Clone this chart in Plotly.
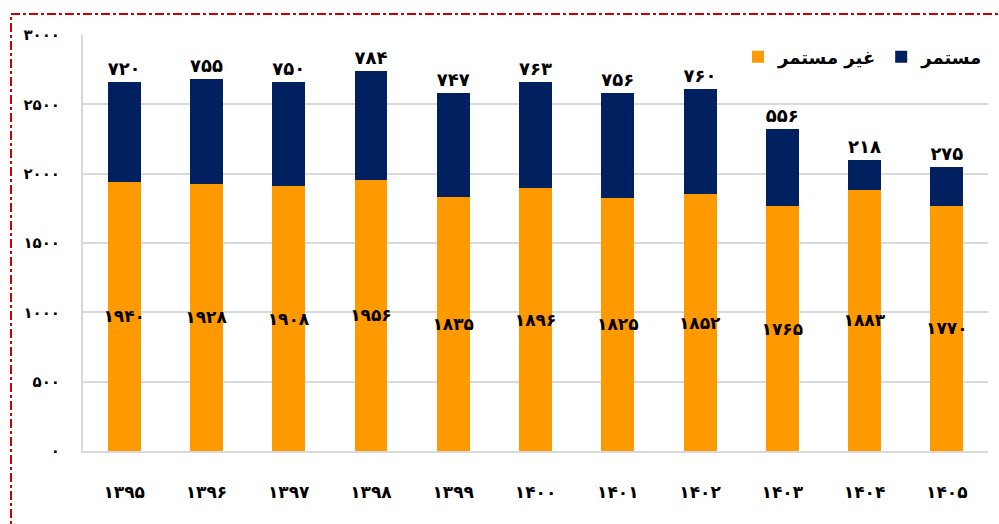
import plotly.graph_objects as go

years = [1395, 1396, 1397, 1398, 1399, 1400, 1401, 1402, 1403, 1404, 1405]
non_continuous = [1940, 1928, 1908, 1956, 1835, 1896, 1825, 1852, 1765, 1883, 1770]
continuous = [720, 755, 750, 784, 747, 763, 756, 760, 556, 218, 275]
y_ticks = [0, 500, 1000, 1500, 2000, 2500, 3000]

name_non = "غیر مستمر"
name_cont = "مستمر"

FA = str.maketrans("0123456789", "۰۱۲۳۴۵۶۷۸۹")
def fa(v):
    return str(v).translate(FA)

cats = [fa(y) for y in years]
FONT = "DejaVu Sans"

fig = go.Figure()
fig.add_trace(go.Bar(
    x=cats, y=non_continuous, name=name_non,
    marker=dict(color="#FF9900", line=dict(width=0)),
    text=[fa(v) for v in non_continuous], textposition="inside",
    insidetextanchor="middle", textangle=0, constraintext="none",
    textfont=dict(family=FONT, size=17, color="black", weight="bold"),
))
fig.add_trace(go.Bar(
    x=cats, y=continuous, name=name_cont,
    marker=dict(color="#002060", line=dict(width=0)),
    text=[fa(v) for v in continuous], textposition="outside", textangle=0,
    constraintext="none",
    textfont=dict(family=FONT, size=18, color="black", weight="bold"),
    cliponaxis=False,
))

fig.update_layout(
    barmode="stack", bargap=0.6,
    width=999, height=524,
    margin=dict(l=83, r=11, t=35, b=73, autoexpand=False),
    plot_bgcolor="white", paper_bgcolor="white",
    font=dict(family=FONT, color="black"),
    showlegend=True,
    legend=dict(orientation="h", x=1.0, xanchor="right", y=1 - 22 / 416, yanchor="middle",
                font=dict(family=FONT, size=18, color="black", weight="bold"),
                traceorder="normal", bgcolor="rgba(0,0,0,0)", itemwidth=30),
    xaxis=dict(showgrid=False, showline=True, linecolor="#D9D9D9", linewidth=2,
               ticks="", ticklabelstandoff=25,
               tickfont=dict(family=FONT, size=17, color="black", weight="bold")),
    yaxis=dict(range=[0, 3000], tickvals=y_ticks, ticktext=[fa(v) for v in y_ticks],
               showgrid=True, gridcolor="#D9D9D9", gridwidth=2,
               showline=True, linecolor="#D9D9D9", linewidth=2,
               zeroline=False, ticks="", ticklabelstandoff=18,
               tickfont=dict(family=FONT, size=15, color="black", weight="bold")),
)

fig.add_shape(type="rect", xref="paper", yref="paper",
              x0=-72 / 905, x1=1.2, y0=-0.5, y1=1 + 21 / 416,
              line=dict(color="#CC0000", width=2, dash="dashdot"),
              fillcolor="rgba(0,0,0,0)", layer="above")

fig.write_html("out.html", config={"displayModeBar": False},
               post_script="document.body.style.margin='0';document.body.style.overflow='hidden';")
